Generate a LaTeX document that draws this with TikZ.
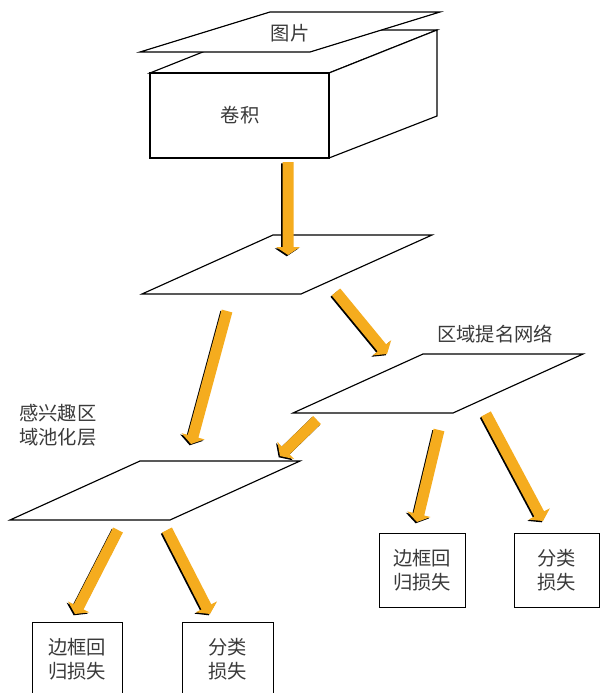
\documentclass[tikz,border=0pt]{standalone}
\usepackage{fontspec}
\newfontfamily\cjk{Noto Sans CJK SC}
\usetikzlibrary{calc}
\definecolor{arrorange}{HTML}{F5AC1E}
\definecolor{txt}{HTML}{3A3A3A}
\tikzset{
  plane/.style={draw=black, line width=1.15pt, fill=white, line join=miter},
  lossbox/.style={draw=black, line width=1pt, fill=white, inner sep=0pt},
  lbl/.style={text=txt, font=\cjk\fontsize{19.3}{24}\selectfont, align=center, inner sep=0pt},
}
\newcommand\barrow[2]{%
  \coordinate (bh) at ($(#2)!8pt!(#1)$);
  \fill[black, transform canvas={shift={(-1.3pt,-1.3pt)}}]
    ($(#1)!5.5pt!90:(#2)$) -- ($(bh)!5.5pt!90:(#2)$) -- ($(bh)!12pt!90:(#2)$) -- (#2)
    -- ($(bh)!12pt!-90:(#2)$) -- ($(bh)!5.5pt!-90:(#2)$) -- ($(#1)!5.5pt!-90:(#2)$) -- cycle;
  \fill[arrorange]
    ($(#1)!5.5pt!90:(#2)$) -- ($(bh)!5.5pt!90:(#2)$) -- ($(bh)!12pt!90:(#2)$) -- (#2)
    -- ($(bh)!12pt!-90:(#2)$) -- ($(bh)!5.5pt!-90:(#2)$) -- ($(#1)!5.5pt!-90:(#2)$) -- cycle;
}
\begin{document}
\begin{tikzpicture}[x=1pt,y=-1pt]
\useasboundingbox (0,0) rectangle (600,693);
\clip (0,0) rectangle (600,693);
\fill[white] (0,0) rectangle (600,693);

% convolution box
\coordinate (c1) at (150,73);
\coordinate (c2) at (329,73);
\coordinate (c3) at (329,158);
\coordinate (c4) at (150,158);
\coordinate (c5) at (258,30);
\coordinate (c6) at (437,30);
\coordinate (c7) at (437,116);
\draw[plane] (c1) -- (c5) -- (c6) -- (c2) -- cycle;
\draw[plane] (c2) -- (c6) -- (c7) -- (c3) -- cycle;
\draw[plane] (c1) -- (c2) -- (c3) -- (c4) -- cycle;
\node[lbl] (conv) at (240,115) {卷积};

% image plane
\draw[plane] (140,52) -- (270,12) -- (440,12) -- (310,52) -- cycle;
\node[lbl] (img) at (290,33) {图片};

% feature map plane
\draw[plane] (142,294) -- (273,235) -- (432,235) -- (301,294) -- cycle;

% RPN plane
\draw[plane] (293,413) -- (423,354) -- (583,354) -- (453,413) -- cycle;
\node[lbl] (rpn) at (495,334) {区域提名网络};

% ROI pooling plane
\draw[plane] (10,520) -- (140,461) -- (300,461) -- (170,520) -- cycle;
\node[lbl, align=left, anchor=west] (roi) at (19,425) {感兴趣区\\域池化层};

% loss boxes
\node[lossbox, minimum width=90pt, minimum height=74pt] (bb1) at (77,659) {};
\node[lbl] at (bb1.center) {边框回\\归损失};
\node[lossbox, minimum width=91pt, minimum height=74pt] (cl1) at (227.5,659) {};
\node[lbl] at (cl1.center) {分类\\损失};
\node[lossbox, minimum width=86pt, minimum height=74pt] (bb2) at (422,570) {};
\node[lbl] at (bb2.center) {边框回\\归损失};
\node[lossbox, minimum width=85.5pt, minimum height=74pt] (cl2) at (556.75,570) {};
\node[lbl] at (cl2.center) {分类\\损失};

% arrows
\coordinate (a1s) at (288,162); \coordinate (a1e) at (288,255);
\coordinate (a2s) at (227,311); \coordinate (a2e) at (191,444);
\coordinate (a3s) at (336,292); \coordinate (a3e) at (387,354);
\coordinate (a4s) at (317,420); \coordinate (a4e) at (280,456);
\coordinate (a5s) at (118,530); \coordinate (a5e) at (75,614);
\coordinate (a6s) at (167,530); \coordinate (a6e) at (210,614);
\coordinate (a7s) at (439,430); \coordinate (a7e) at (417,522);
\coordinate (a8s) at (486,414); \coordinate (a8e) at (543,521);
\barrow{a1s}{a1e}
\barrow{a2s}{a2e}
\barrow{a3s}{a3e}
\barrow{a4s}{a4e}
\barrow{a5s}{a5e}
\barrow{a6s}{a6e}
\barrow{a7s}{a7e}
\barrow{a8s}{a8e}
\end{tikzpicture}
\end{document}
